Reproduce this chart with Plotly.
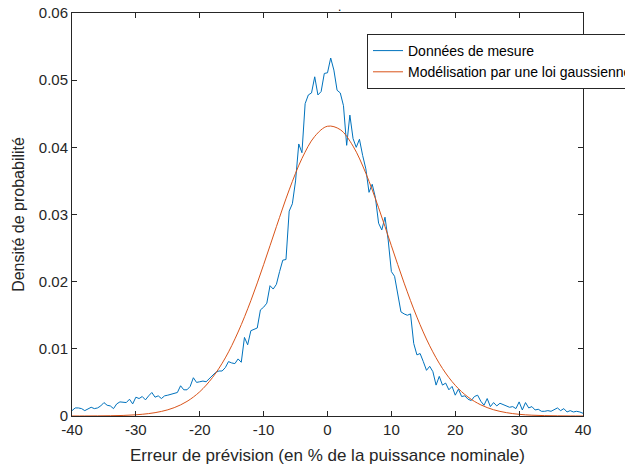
import numpy as np
import plotly.graph_objects as go

# x grid of the measured histogram (step 0.5 %)
x_mesure = np.arange(-40, 40.25, 0.5)
densite_mesure = [
    0.0008, 0.0012, 0.0012, 0.0011, 0.0008, 0.0011, 0.0013, 0.0011, 0.0012, 0.0015,
    0.0020, 0.0016, 0.0015, 0.0011, 0.0018, 0.0021, 0.0021, 0.0020, 0.0025, 0.0018,
    0.0028, 0.0026, 0.0029, 0.0024, 0.0030, 0.0035, 0.0028, 0.0030, 0.0026, 0.0030,
    0.0031, 0.0032, 0.0034, 0.0035, 0.0045, 0.0039, 0.0039, 0.0044, 0.0057, 0.0050,
    0.0051, 0.0052, 0.0051, 0.0056, 0.0061, 0.0065, 0.0067,
    0.0067, 0.0072, 0.0081, 0.0079, 0.0078, 0.0085, 0.0080, 0.0117, 0.0106, 0.0127,
    0.0129, 0.0131, 0.0158, 0.0162, 0.0168, 0.0194, 0.0189, 0.0196, 0.0215, 0.0232,
    0.0233, 0.0305, 0.0316, 0.0350,
    0.0405, 0.0392, 0.0465, 0.0478, 0.0481, 0.0505, 0.0478, 0.0483, 0.0510, 0.0511,
    0.0533, 0.0515, 0.0485, 0.0481, 0.0462, 0.0403, 0.0448, 0.0413, 0.0400, 0.0412,
    0.0388, 0.0368, 0.0333, 0.0345, 0.0325,
    0.0287, 0.0277, 0.0296, 0.0262, 0.0215, 0.0208, 0.0180, 0.0155, 0.0152, 0.0150,
    0.0152, 0.0108, 0.0091, 0.0093, 0.0081, 0.0068, 0.0074, 0.0066,
    0.0046, 0.0059, 0.0046, 0.0049, 0.0039, 0.0044, 0.0031, 0.0040, 0.0029, 0.0030,
    0.0025, 0.0023, 0.0029, 0.0031, 0.0022, 0.0016, 0.0026, 0.0014, 0.0020, 0.0015,
    0.0019, 0.0017, 0.0015, 0.0013, 0.0014, 0.0011, 0.0021, 0.0009, 0.0020, 0.0012,
    0.0014, 0.0009, 0.0010, 0.0007, 0.0007, 0.0008, 0.0007, 0.0010, 0.0012, 0.0008,
    0.0011, 0.0006, 0.0008, 0.0006, 0.0007, 0.0006, 0.0004,
]

x_modele = list(range(-40, 41, 2))
densite_modele = [
    0.0000027, 0.0000068, 0.000016, 0.000038, 0.000084, 0.00018, 0.00036, 0.00068,
    0.00124, 0.00217, 0.00361, 0.00573, 0.00865, 0.01250, 0.01717, 0.02253, 0.02819,
    0.03366, 0.03834, 0.04163, 0.04314, 0.04263, 0.04018, 0.03614, 0.03100, 0.02535,
    0.01978, 0.01472, 0.01045, 0.00708, 0.00457, 0.00282, 0.00166, 0.00093, 0.00050,
    0.00025, 0.00012, 0.000057, 0.000025, 0.000011, 0.000004,
]

x_ticks = [-40, -30, -20, -10, 0, 10, 20, 30, 40]
x_tick_labels = ["-40", "-30", "-20", "-10", "0", "10", "20", "30", "40"]
y_ticks = [0, 0.01, 0.02, 0.03, 0.04, 0.05, 0.06]
y_tick_labels = ["0", "0.01", "0.02", "0.03", "0.04", "0.05", "0.06"]

FONT = "Liberation Sans, Arial, Helvetica, sans-serif"

fig = go.Figure()
fig.add_trace(go.Scatter(
    x=x_mesure, y=densite_mesure, mode="lines", name="Données de mesure",
    line=dict(color="#0072BD", width=1),
))
fig.add_trace(go.Scatter(
    x=x_modele, y=densite_modele, mode="lines",
    name="Modélisation par une loi gaussienne",
    line=dict(color="#D95319", width=1, shape="spline", smoothing=1.0),
))

axis_common = dict(
    showline=True, linecolor="#262626", linewidth=1, mirror="ticks",
    ticks="inside", ticklen=5, tickcolor="#262626", showgrid=False, zeroline=False,
    automargin=False, ticklabeloverflow="allow",
    tickfont=dict(family=FONT, size=15, color="#262626"),
)

# the page body adds an 8 px offset, so margins are reduced by 8 px on left/top
fig.update_layout(
    width=633, height=468,
    margin=dict(l=64, r=58, t=5, b=60, autoexpand=False),
    paper_bgcolor="white", plot_bgcolor="white",
    font=dict(family=FONT, color="#262626"),
    xaxis=dict(range=[-40, 40], tickvals=x_ticks, ticktext=x_tick_labels,
               title=dict(text="Erreur de prévision (en % de la puissance nominale)",
                          font=dict(size=17), standoff=12),
               **axis_common),
    yaxis=dict(range=[0, 0.06], tickvals=y_ticks, ticktext=y_tick_labels,
               title=dict(text="Densité de probabilité", font=dict(size=16), standoff=10),
               **axis_common),
    legend=dict(x=(367 - 72) / 511, y=(416 - 34) / 403, xanchor="left", yanchor="top",
                bgcolor="white", bordercolor="#262626", borderwidth=1,
                font=dict(family=FONT, size=14, color="black"), tracegroupgap=0,
                itemwidth=30),
    showlegend=True,
    annotations=[dict(text=".", x=(339 - 72) / 511, y=1.0, xref="paper", yref="paper",
                      xanchor="center", yanchor="bottom", yshift=-3, showarrow=False,
                      font=dict(size=12, color="black"))],
)

fig.write_html("out.html")
